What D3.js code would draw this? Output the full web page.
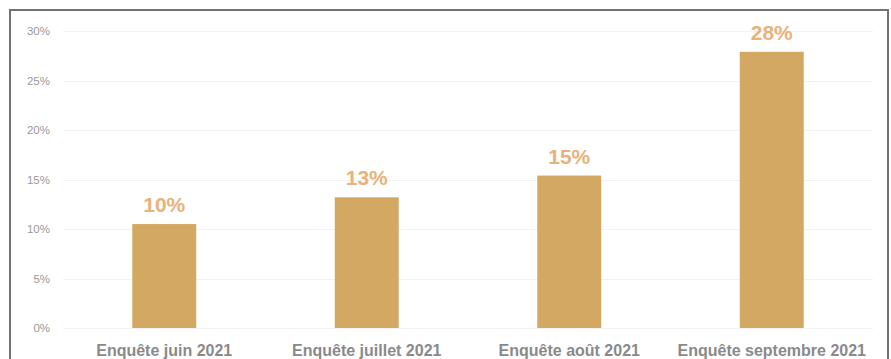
<!DOCTYPE html>
<html>
<head>
<meta charset="utf-8">
<script src="https://cdn.jsdelivr.net/npm/d3@7"></script>
<style>
  body { margin: 0; background: #fff; }
  svg { display: block; font-family: "Liberation Sans", Arial, sans-serif; }
</style>
</head>
<body>
<div id="chart"></div>
<script>
// Data
const categories = ['Enquête juin 2021', 'Enquête juillet 2021', 'Enquête août 2021', 'Enquête septembre 2021'];
const values = [10.5, 13.2, 15.4, 27.9];
const valueLabels = ['10%', '13%', '15%', '28%'];
const yTicks = [0, 5, 10, 15, 20, 25, 30];

const width = 891;
const height = 359;

// Plot area
const plot = { left: 63, right: 873, top: 31, bottom: 328 };

const x = d3.scaleBand()
  .domain(categories)
  .range([plot.left, plot.right])
  .paddingInner(0.684)
  .paddingOuter(0.342);

const y = d3.scaleLinear()
  .domain([0, 30])
  .range([plot.bottom, plot.top]);

const svg = d3.select('#chart')
  .append('svg')
  .attr('width', width)
  .attr('height', height);

// Frame (top, left, right edges only)
svg.append('path')
  .attr('d', `M10,${height} L10,10 L888,10 L888,${height}`)
  .attr('fill', 'none')
  .attr('stroke', '#767070')
  .attr('stroke-width', 2);

// Gridlines
svg.append('g')
  .selectAll('line')
  .data(yTicks)
  .enter().append('line')
  .attr('x1', plot.left)
  .attr('x2', plot.right)
  .attr('y1', d => Math.round(y(d)) + 0.5)
  .attr('y2', d => Math.round(y(d)) + 0.5)
  .attr('stroke', '#f2f2f2')
  .attr('stroke-width', 1);

// Y tick labels
svg.append('g')
  .selectAll('text')
  .data(yTicks)
  .enter().append('text')
  .attr('x', 50)
  .attr('y', d => y(d))
  .attr('dy', '0.35em')
  .attr('text-anchor', 'end')
  .attr('fill', '#999999')
  .style('font-size', '11.5px')
  .text(d => `${d}%`);

// Bars
svg.append('g')
  .selectAll('rect')
  .data(values)
  .enter().append('rect')
  .attr('x', (d, i) => x(categories[i]))
  .attr('width', x.bandwidth())
  .attr('y', d => y(d))
  .attr('height', d => y(0) - y(d))
  .attr('fill', '#d3a862');

// Value labels above bars
svg.append('g')
  .selectAll('text')
  .data(values)
  .enter().append('text')
  .attr('x', (d, i) => x(categories[i]) + x.bandwidth() / 2)
  .attr('y', d => y(d) - 12)
  .attr('text-anchor', 'middle')
  .attr('fill', '#e9b27a')
  .style('font-size', '21px')
  .style('font-weight', 'bold')
  .text((d, i) => valueLabels[i]);

// Category labels
svg.append('g')
  .selectAll('text')
  .data(categories)
  .enter().append('text')
  .attr('x', d => x(d) + x.bandwidth() / 2)
  .attr('y', 356)
  .attr('text-anchor', 'middle')
  .attr('fill', '#8a8a8a')
  .style('font-size', '16px')
  .style('font-weight', 'bold')
  .text(d => d);
</script>
</body>
</html>
